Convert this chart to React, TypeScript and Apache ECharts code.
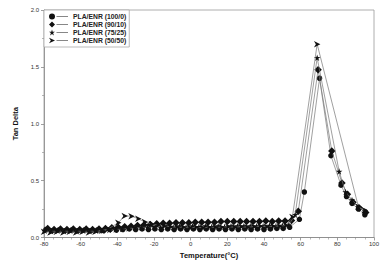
import React, { useEffect, useRef } from "react";
import * as echarts from "echarts";

const names = ["PLA/ENR (100/0)", "PLA/ENR (90/10)", "PLA/ENR (75/25)", "PLA/ENR (50/50)"];

const t100 = [-79, -75.5, -72, -68.5, -65, -61.5, -58, -54.5, -51, -47.5, -44, -40.5, -37, -33.5, -30, -26.5, -23, -19.5, -16, -12.5, -9, -5.5, -2, 1.5, 5, 8.5, 12, 15.5, 19, 22.5, 26, 29.5, 33, 36.5, 40, 43.5, 47, 50.5, 54, 59.3, 62, 70.3, 76.5, 82, 85, 88, 91.5, 95];
const v100 = [0.07, 0.06, 0.065, 0.06, 0.065, 0.06, 0.065, 0.06, 0.065, 0.06, 0.07, 0.065, 0.07, 0.075, 0.07, 0.075, 0.07, 0.075, 0.07, 0.075, 0.07, 0.075, 0.07, 0.075, 0.07, 0.075, 0.07, 0.075, 0.07, 0.075, 0.07, 0.075, 0.07, 0.075, 0.07, 0.075, 0.08, 0.08, 0.09, 0.16, 0.4, 1.4, 0.72, 0.46, 0.36, 0.3, 0.25, 0.2];

const t90 = [-78, -74.5, -71, -67.5, -64, -60.5, -57, -53.5, -50, -46.5, -43, -39.5, -36, -32.5, -29, -25.5, -22, -18.5, -15, -11.5, -8, -4.5, -1, 2.5, 6, 9.5, 13, 16.5, 20, 23.5, 27, 30.5, 34, 37.5, 41, 44.5, 48, 51.5, 55, 58.7, 69.5, 77, 82.5, 85.5, 88.5, 92, 95.5];
const v90 = [0.08, 0.07, 0.075, 0.07, 0.075, 0.07, 0.075, 0.07, 0.075, 0.08, 0.085, 0.09, 0.095, 0.1, 0.105, 0.11, 0.115, 0.12, 0.125, 0.125, 0.13, 0.13, 0.13, 0.135, 0.135, 0.135, 0.135, 0.14, 0.14, 0.14, 0.14, 0.14, 0.14, 0.14, 0.145, 0.14, 0.145, 0.145, 0.15, 0.23, 1.475, 0.76, 0.48, 0.38, 0.31, 0.26, 0.22];

const t75 = [-79.5, -76, -72.5, -69, -65.5, -62, -58.5, -55, -51.5, -48, -44.5, -41, -37.5, -34, -30.5, -27, -23.5, -20, -16.5, -13, -9.5, -6, -2.5, 1, 4.5, 8, 11.5, 15, 18.5, 22, 25.5, 29, 32.5, 36, 39.5, 43, 46.5, 50, 53.5, 57, 69, 81, 84.5, 88, 91.5, 95];
const v75 = [0.06, 0.055, 0.06, 0.055, 0.06, 0.055, 0.06, 0.055, 0.06, 0.06, 0.065, 0.07, 0.075, 0.08, 0.085, 0.09, 0.09, 0.095, 0.09, 0.1, 0.09, 0.1, 0.09, 0.1, 0.095, 0.1, 0.095, 0.1, 0.095, 0.1, 0.1, 0.1, 0.1, 0.1, 0.1, 0.105, 0.1, 0.105, 0.11, 0.2, 1.58, 0.58, 0.4, 0.33, 0.27, 0.23];

const t50 = [-80, -76.5, -73, -69.5, -66, -62.5, -59, -55.5, -52, -48.5, -45, -39.5, -36, -32.3, -28.6, -25, -21.3, -17.7, -14.5, -11, -7.5, -4, -0.5, 3, 6.5, 10, 13.5, 17, 20.5, 24, 27.5, 31, 34.5, 38, 41.5, 45, 48.5, 52, 55.5, 69, 91.5, 95];
const v50 = [0.05, 0.045, 0.05, 0.045, 0.05, 0.045, 0.05, 0.045, 0.05, 0.06, 0.075, 0.13, 0.19, 0.187, 0.165, 0.136, 0.118, 0.11, 0.1, 0.095, 0.09, 0.09, 0.085, 0.09, 0.085, 0.09, 0.09, 0.09, 0.095, 0.09, 0.095, 0.09, 0.095, 0.1, 0.095, 0.1, 0.1, 0.105, 0.18, 1.7, 0.27, 0.24];

const xTicks = [-80, -60, -40, -20, 0, 20, 40, 60, 80, 100];
const yTicks = [0.0, 0.5, 1.0, 1.5, 2.0];

const STAR = "path://M5,0 L6.2,3.6 L10,3.6 L6.9,5.9 L8.1,9.5 L5,7.3 L1.9,9.5 L3.1,5.9 L0,3.6 L3.8,3.6 Z";
const ARROW = "path://M0,0 L10,5 L0,10 L3,5 Z";
const symbols = ["circle", "diamond", STAR, ARROW];
const sizes = [5.5, 7.5, 6.5, 6.5];

const LINE = "M7.5,2.75 L19,2.75 L19,3.25 L7.5,3.25 Z";
const legendIcons = [
  "path://M3,0 A3,3 0 1,1 3,6 A3,3 0 1,1 3,0 Z " + LINE,
  "path://M3,0 L6,3 L3,6 L0,3 Z " + LINE,
  "path://M3,0 L3.7,2.2 L6,2.2 L4.1,3.6 L4.9,6 L3,4.5 L1.1,6 L1.9,3.6 L0,2.2 L2.3,2.2 Z " + LINE,
  "path://M0,0.3 L6,3 L0,5.7 L1.8,3 Z " + LINE,
];

export default function App() {
  const ref = useRef<HTMLDivElement>(null);
  useEffect(() => {
    if (!ref.current) return;
    const chart = echarts.init(ref.current, undefined, { renderer: "svg" });
    const xs = [t100, t90, t75, t50];
    const vs = [v100, v90, v75, v50];
    const font = "Liberation Sans";
    chart.setOption({
      animation: false,
      backgroundColor: "#fff",
      grid: { left: 44, right: 9, top: 10, bottom: 29.5, show: true, borderColor: "#999", borderWidth: 0.8 },
      legend: {
        orient: "vertical",
        left: 44,
        top: 10,
        padding: [3, 3, 3, 5],
        itemWidth: 19,
        itemHeight: 6,
        itemGap: 1,
        borderColor: "#aaa",
        borderWidth: 0.8,
        backgroundColor: "#fff",
        textStyle: { fontSize: 6.8, fontWeight: "bold", color: "#222", fontFamily: font, lineHeight: 6 },
        data: names.map((n, i) => ({ name: n, icon: legendIcons[i], itemStyle: { color: "#111" } })),
      },
      xAxis: {
        type: "value",
        min: xTicks[0],
        max: xTicks[xTicks.length - 1],
        interval: 20,
        name: "Temperature(°C)",
        nameLocation: "middle",
        nameGap: 13,
        nameTextStyle: { fontSize: 7.5, fontWeight: "bold", color: "#111", fontFamily: font },
        axisLine: { onZero: false, lineStyle: { color: "#888", width: 0.8 } },
        axisTick: { length: 3, lineStyle: { color: "#888", width: 0.8 } },
        minorTick: { show: true, splitNumber: 4, length: 2, lineStyle: { color: "#888", width: 0.6 } },
        axisLabel: { fontSize: 6, color: "#333", margin: 3, fontFamily: font },
        splitLine: { show: false },
      },
      yAxis: {
        type: "value",
        min: yTicks[0],
        max: yTicks[yTicks.length - 1],
        interval: 0.5,
        name: "Tan Delta",
        nameLocation: "middle",
        nameGap: 17,
        nameTextStyle: { fontSize: 7.5, fontWeight: "bold", color: "#111", fontFamily: font },
        axisLine: { show: true, onZero: false, lineStyle: { color: "#888", width: 0.8 } },
        axisTick: { show: true, length: 3, lineStyle: { color: "#888", width: 0.8 } },
        minorTick: { show: true, splitNumber: 2, length: 2, lineStyle: { color: "#888", width: 0.6 } },
        axisLabel: { fontSize: 6, color: "#333", margin: 5, fontFamily: font, formatter: (v: number) => v.toFixed(1) },
        splitLine: { show: false },
      },
      series: names.map((n, i) => ({
        name: n,
        type: "line",
        data: xs[i].map((x, j) => [x, vs[i][j]]),
        symbol: symbols[i],
        symbolSize: sizes[i],
        itemStyle: { color: "#111" },
        lineStyle: { color: "#777", width: 0.7 },
        z: 2 + i,
      })),
    });
    return () => chart.dispose();
  }, []);
  return <div ref={ref} style={{ width: 383, height: 267, position: "absolute", left: 0, top: 0 }} />;
}
